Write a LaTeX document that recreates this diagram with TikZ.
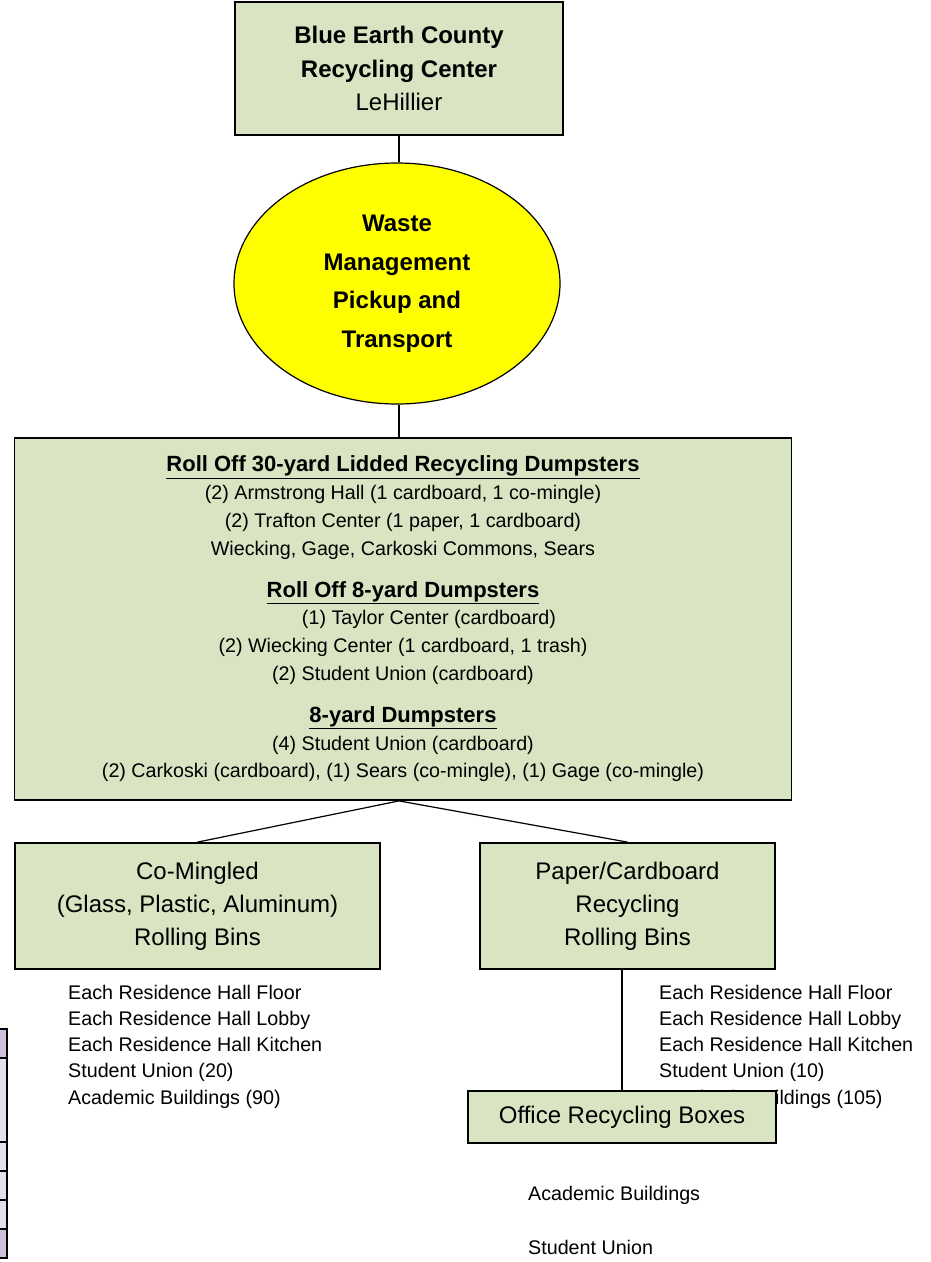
\documentclass[tikz,border=0pt]{standalone}
\usepackage{fontspec}
\setmainfont{Liberation Sans}
\usetikzlibrary{shapes.geometric}

\definecolor{boxgreen}{HTML}{D9E4C2}
\definecolor{pickupyellow}{HTML}{FFFF00}
\definecolor{tablehead}{HTML}{CCC0DA}
\definecolor{tablebody}{HTML}{E5E0EC}

\tikzset{
  greenbox/.style={draw=black, line width=1.8pt, fill=boxgreen, align=center, inner sep=0pt},
  link/.style={line width=1.2pt},
  listtext/.style={anchor=west, align=left, inner sep=0pt, font=\fontsize{19.7}{26.3}\selectfont},
  tablecell/.style={draw=black, line width=2pt},
}

\begin{document}
\begin{tikzpicture}[x=1pt, y=-1pt]
    \useasboundingbox (0,0) rectangle (930,1262);

    % cut-off table on the left edge
    \draw[tablecell, fill=tablehead](-5,1029) rectangle (6.5,1058);
    \draw[tablecell, fill=tablebody](-5,1058) rectangle (6.5,1142);
    \draw[tablecell, fill=tablebody](-5,1142) rectangle (6.5,1171);
    \draw[tablecell, fill=tablebody](-5,1171) rectangle (6.5,1200);
    \draw[tablecell, fill=tablebody](-5,1200) rectangle (6.5,1229);
    \draw[tablecell, fill=tablehead](-5,1229) rectangle (6.5,1258);

    \node[greenbox, minimum width=328, minimum height=133, font=\fontsize{24}{33.5}\selectfont](center) at (399,68.5)
        {\textbf{Blue Earth County}\\ \textbf{Recycling Center}\\ LeHillier};

    \node[ellipse, draw=black, line width=1.2pt, fill=pickupyellow, minimum width=326, minimum height=241, inner sep=0pt,
          align=center, font=\fontsize{24}{38.5}\selectfont\bfseries](pickup) at (397,283.5)
        {Waste\\ Management\\ Pickup and\\ Transport};

    \node[greenbox, minimum width=777, minimum height=362, font=\fontsize{19.7}{27.8}\selectfont](dumpsters) at (403,619)
        {{\fontsize{22}{27.8}\selectfont\bfseries\underline{Roll Off 30-yard Lidded Recycling Dumpsters}}\\
         (2) Armstrong Hall (1 cardboard, 1 co-mingle)\\
         (2) Trafton Center (1 paper, 1 cardboard)\\
         Wiecking, Gage, Carkoski Commons, Sears\\[14pt]
         {\fontsize{22}{27.8}\selectfont\bfseries\underline{Roll Off 8-yard Dumpsters}}\\
         \hspace*{52pt}(1) Taylor Center (cardboard)\\
         (2) Wiecking Center (1 cardboard, 1 trash)\\
         (2) Student Union (cardboard)\\[14pt]
         {\fontsize{22}{27.8}\selectfont\bfseries\underline{8-yard Dumpsters}}\\
         (4) Student Union (cardboard)\\
         (2) Carkoski (cardboard), (1) Sears (co-mingle), (1) Gage (co-mingle)};

    \node[greenbox, minimum width=365, minimum height=126, font=\fontsize{24}{33}\selectfont](comingled) at (197.5,906)
        {Co-Mingled\\ (Glass, Plastic, Aluminum)\\ Rolling Bins};
    \node[greenbox, minimum width=295, minimum height=126, font=\fontsize{24}{33}\selectfont](paper) at (627.5,906)
        {Paper/Cardboard\\ Recycling\\ Rolling Bins};

    % where the bins stand
    \node[listtext](comingledlist) at (68,1046.5)
        {Each Residence Hall Floor\\ Each Residence Hall Lobby\\ Each Residence Hall Kitchen\\ Student Union (20)\\ Academic Buildings (90)};
    \node[listtext](paperlist) at (659,1046.5)
        {Each Residence Hall Floor\\ Each Residence Hall Lobby\\ Each Residence Hall Kitchen\\ Student Union (10)\\ Academic Buildings (105)};

    \node[greenbox, minimum width=308, minimum height=52, font=\fontsize{24}{30}\selectfont](office) at (622,1117)
        {Office Recycling Boxes};
    \node[listtext](officeacademic) at (528,1195){Academic Buildings};
    \node[listtext](officeunion) at (528,1247){Student Union};

    \draw[link](center.south)--(center.south |- pickup.north);
    \draw[link](center.south |- pickup.south)--(center.south |- dumpsters.north);
    \draw[link](center.south |- dumpsters.south)--(comingled.north);
    \draw[link](center.south |- dumpsters.south)--(paper.north);
    \draw[link](paper.south -| office.north)--(office.north);
\end{tikzpicture}
\end{document}
